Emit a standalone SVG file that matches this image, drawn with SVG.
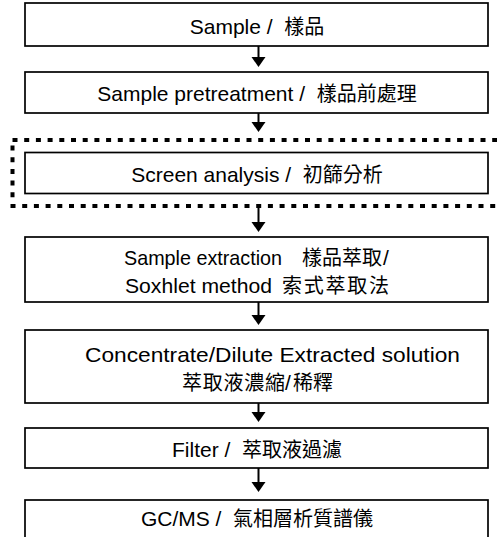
<svg xmlns="http://www.w3.org/2000/svg" width="497" height="537" viewBox="0 0 497 537">
<style>
.box{fill:#fff;stroke:#000;stroke-width:1.7}
.dash{fill:none;stroke:#000;stroke-width:4;stroke-dasharray:5 6.7}
.t{font-family:"Liberation Sans","Noto Sans CJK TC",sans-serif;font-size:21px;fill:#000;text-anchor:middle;white-space:pre}
.s{font-family:"Liberation Sans","Noto Sans CJK TC",sans-serif;font-size:21px;fill:#000;text-anchor:start}
.c{font-family:"Noto Sans CJK TC",sans-serif;font-size:20px}
.shaft{stroke:#000;stroke-width:2;fill:none}
.head{fill:#000}
</style>
<rect width="497" height="537" fill="#fff"/>
<g id="screen-frame">
<rect class="dash" x="12.5" y="140" width="495" height="66"/>
</g>
<g id="n1">
<rect class="box" x="25" y="3" width="463" height="43"/>
<text class="t" x="257" y="34">Sample /  <tspan class="c">樣品</tspan></text>
</g>
<g id="n2">
<rect class="box" x="25" y="72" width="463" height="41"/>
<text class="t" x="257" y="101">Sample pretreatment /  <tspan class="c">樣品前處理</tspan></text>
</g>
<g id="n3">
<rect class="box" x="25" y="152.5" width="463" height="41"/>
<text class="t" x="257" y="182">Screen analysis /  <tspan class="c">初篩分析</tspan></text>
</g>
<g id="n4">
<rect class="box" x="25" y="237" width="463" height="65"/>
<text class="s" y="264.5"><tspan x="124" textLength="158" lengthAdjust="spacingAndGlyphs">Sample extraction</tspan><tspan class="c" x="302" textLength="80">樣品萃取</tspan><tspan x="383">/</tspan></text>
<text class="s" y="292.5"><tspan x="125" textLength="147" lengthAdjust="spacingAndGlyphs">Soxhlet method</tspan><tspan class="c" x="282" textLength="107">索式萃取法</tspan></text>
</g>
<g id="n5">
<rect class="box" x="25" y="330" width="463" height="73"/>
<text class="s" x="85" y="362" textLength="375" lengthAdjust="spacingAndGlyphs">Concentrate/Dilute Extracted solution</text>
<text class="s" y="390"><tspan class="c" x="182" textLength="103">萃取液濃縮</tspan><tspan x="285">/</tspan><tspan class="c" x="293" textLength="40">稀釋</tspan></text>
</g>
<g id="n6">
<rect class="box" x="25" y="428" width="463" height="40"/>
<text class="t" x="257" y="457">Filter /  <tspan class="c">萃取液過濾</tspan></text>
</g>
<g id="n7">
<rect class="box" x="25" y="500" width="463" height="60"/>
<text class="t" x="257" y="526">GC/MS /  <tspan class="c">氣相層析質譜儀</tspan></text>
</g>
<g id="connectors">
<line class="shaft" x1="258.5" y1="46" x2="258.5" y2="60"/>
<polygon class="head" points="251.5,57 265.5,57 258.5,67"/>
<line class="shaft" x1="258.5" y1="113" x2="258.5" y2="125"/>
<polygon class="head" points="251.5,122 265.5,122 258.5,132"/>
<line class="shaft" x1="258.5" y1="208" x2="258.5" y2="225"/>
<polygon class="head" points="251.5,222 265.5,222 258.5,232"/>
<line class="shaft" x1="258.5" y1="302" x2="258.5" y2="318"/>
<polygon class="head" points="251.5,315 265.5,315 258.5,325"/>
<line class="shaft" x1="258.5" y1="403" x2="258.5" y2="415"/>
<polygon class="head" points="251.5,412 265.5,412 258.5,422"/>
<line class="shaft" x1="258.5" y1="468" x2="258.5" y2="485"/>
<polygon class="head" points="251.5,482 265.5,482 258.5,492"/>
</g>
</svg>
